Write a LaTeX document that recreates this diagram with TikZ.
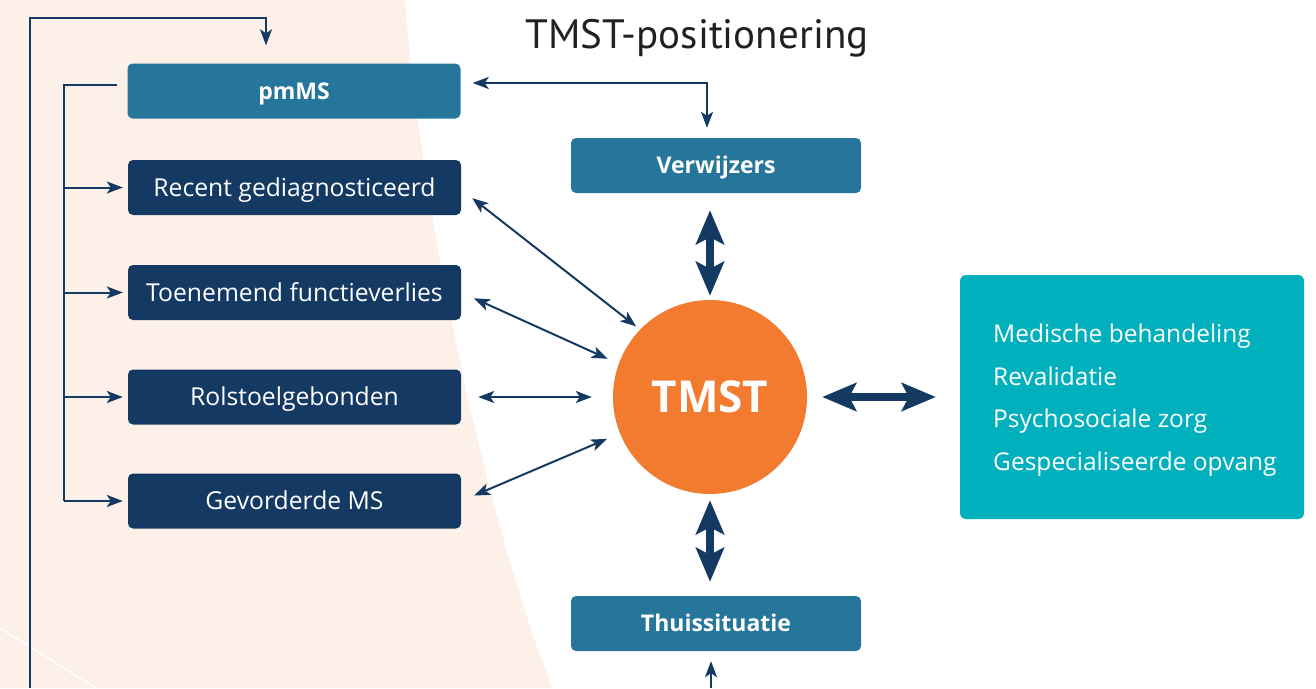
\documentclass[tikz,border=0pt]{standalone}
\usepackage{fontspec}
\setmainfont{Open Sans}
\newfontfamily\titlefont{PT Sans}
\usetikzlibrary{arrows.meta,calc}
\definecolor{navy}{HTML}{143A63}
\definecolor{boxblue}{HTML}{26769C}
\definecolor{orng}{HTML}{F37B30}
\definecolor{tealc}{HTML}{00B0BD}
\definecolor{peach}{HTML}{FDF0E8}
\definecolor{ttl}{HTML}{231F20}
\tikzset{
  basebox/.style={rounded corners=5pt, text=white, inner sep=0pt, minimum height=55pt, text depth=0pt},
  lightbox/.style={basebox, fill=boxblue, text height=16.4pt, font=\fontsize{23}{27}\selectfont\bfseries},
  darkbox/.style={basebox, fill=navy, minimum width=333pt, text height=17.6pt, font=\fontsize{24.7}{28}\selectfont},
  thinarr/.style={draw=navy, line width=2pt, arrows={-Stealth[length=16pt,width=12pt,inset=4pt]}},
  thinline/.style={draw=navy, line width=2pt},
  dblarr/.style={draw=navy, line width=2pt, arrows={Stealth[length=16pt,width=12pt,inset=4pt]-Stealth[length=16pt,width=12pt,inset=4pt]}},
  thickarr/.style={draw=navy, line width=8pt, arrows={Stealth[length=34pt,width=28pt,inset=7pt]-Stealth[length=34pt,width=28pt,inset=7pt]}},
}
\begin{document}
\begin{tikzpicture}[x=1pt,y=-1pt]
\useasboundingbox (0,0) rectangle (1316,688);
% background
\fill[peach] (0,0) -- (405,0) .. controls (420,200) and (480,500) .. (552,688) -- (0,688) -- cycle;
\draw[white, line width=1.5pt] (0,628) -- (96,688);
% title
\node[text=ttl, font=\titlefont\fontsize{41}{45}\selectfont] (title) at (697,38) {TMST-positionering};
% boxes
\node[lightbox, minimum width=333pt] (pmms) at (294,91) {pmMS};
\node[darkbox] (rec) at (294.5,187.5) {Recent gediagnosticeerd};
\node[darkbox] (toe) at (294.5,292.5) {Toenemend functieverlies};
\node[darkbox] (rol) at (294.5,397) {Rolstoelgebonden};
\node[darkbox] (gev) at (294.5,501) {Gevorderde MS};
\node[lightbox, minimum width=290pt] (verw) at (716,165.5) {Verwijzers};
\node[lightbox, minimum width=290pt] (thuis) at (716,623.5) {Thuissituatie};
\node[circle, fill=orng, minimum size=194pt, inner sep=0pt, text=white, font=\fontsize{44}{48}\selectfont\bfseries] (tmst) at (710,397) {TMST};
\node[fill=tealc, rounded corners=6pt, minimum width=344pt, minimum height=244pt] (care) at (1132,397) {};
\node[anchor=west, text=white, align=left, inner sep=0pt, font=\fontsize{24.5}{42.7}\selectfont] (carelist) at (993,400)
  {Medische behandeling\\Revalidatie\\Psychosociale zorg\\Gespecialiseerde opvang};
% outer loop
\coordinate (loopstart) at (30,688);
\coordinate (loopcorner) at (30,18);
\coordinate (loopend) at ([xshift=-28pt,yshift=18pt]pmms.north);
\draw[thinarr] (loopstart) -- (loopcorner) -| (loopend);
% inner bracket
\coordinate (brtop) at (64,85);
\draw[thinline] ([xshift=-10pt,yshift=6pt]pmms.west) -- (brtop) -- (brtop |- gev.west);
\foreach \b in {rec,toe,rol,gev}{
  \draw[thinarr, shorten >=5pt] (brtop |- \b.west) -- (\b.west);
}
% pmMS - Verwijzers
\draw[dblarr, shorten <=12pt, shorten >=10pt] ([yshift=8pt]pmms.east) -| ([xshift=-9pt]verw.north);
% boxes to TMST
\draw[dblarr, shorten <=14pt, shorten >=5pt] ([yshift=-2pt]rec.east) -- (tmst.136);
\draw[dblarr, shorten <=14pt, shorten >=12pt] (toe.east) -- (tmst.160);
\draw[dblarr, shorten <=17pt, shorten >=21pt] (rol.east) -- (tmst.180);
\draw[dblarr, shorten <=14pt, shorten >=14pt] (gev.east) -- (tmst.202);
% thick arrows
\draw[thickarr, shorten <=17pt, shorten >=4pt] (tmst.north |- verw.south) -- (tmst.north);
\draw[thickarr, shorten <=6pt, shorten >=14pt] (tmst.south) -- (tmst.south |- thuis.north);
\draw[thickarr, shorten <=15pt, shorten >=24pt] (tmst.east) -- (care.west |- tmst.east);
% bottom arrow into Thuissituatie
\coordinate (thuisbot) at (711,688);
\draw[thinarr, shorten >=10pt] (thuisbot) -- (thuisbot |- thuis.south);
\end{tikzpicture}
\end{document}
